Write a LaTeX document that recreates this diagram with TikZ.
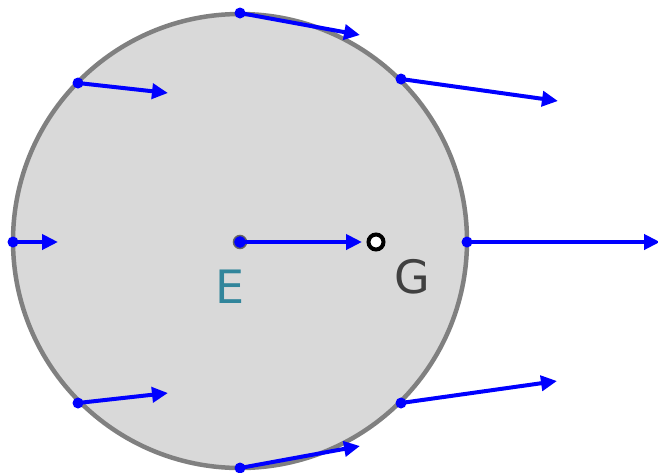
\documentclass[tikz,border=0pt]{standalone}
\usepackage{fontspec}
\setmainfont{DejaVu Sans}
\usetikzlibrary{arrows.meta}
\definecolor{teal1}{RGB}{49,133,155}
\definecolor{dgray}{RGB}{64,64,64}
\tikzset{
  vec/.style={draw={rgb,255:red,0;green,0;blue,255}, line width=4pt, -{Triangle[length=16pt,width=15pt]}},
  pt/.style={circle, fill={rgb,255:red,0;green,0;blue,255}, inner sep=0pt, minimum size=11pt},
}
\begin{document}
\begin{tikzpicture}[x=1pt,y=-1pt]
\useasboundingbox (0,0) rectangle (658,472);
\draw[fill={rgb,255:red,217;green,217;blue,217}, draw={rgb,255:red,128;green,128;blue,128}, line width=4.5pt] (240,241) circle (227);
% points on the rim
\node[pt] (p0) at (240,13) {};
\node[pt] (p1) at (401,79) {};
\node[pt] (p2) at (467,242) {};
\node[pt] (p3) at (401,403) {};
\node[pt] (p4) at (240,468) {};
\node[pt] (p5) at (78,403) {};
\node[pt] (p6) at (13,242) {};
\node[pt] (p7) at (78,83) {};
\node[pt, draw={rgb,255:red,100;green,100;blue,100}, line width=1.5pt, minimum size=13pt] (e) at (240,242) {};
% arrow tips
\coordinate (t0) at (360,35);
\coordinate (t1) at (558,101);
\coordinate (t2) at (660,242);
\coordinate (t3) at (557,381);
\coordinate (t4) at (360,446);
\coordinate (t5) at (168,393);
\coordinate (t6) at (58,242);
\coordinate (t7) at (168,93);
\coordinate (te) at (362,242);
\foreach \i in {0,...,7} { \draw[vec] (p\i.center) -- (t\i); }
\draw[vec] (e.center) -- (te);
\node[pt] at (e) {};
\node[circle, draw=black, fill=white, line width=4pt, minimum size=15pt, inner sep=0pt] (g) at (376,242) {};
\node[font=\fontsize{46}{46}\selectfont, text=teal1] (elab) at (230,287) {E};
\node[font=\fontsize{46}{46}\selectfont, text=dgray] (glab) at (412,277) {G};
\end{tikzpicture}
\end{document}
